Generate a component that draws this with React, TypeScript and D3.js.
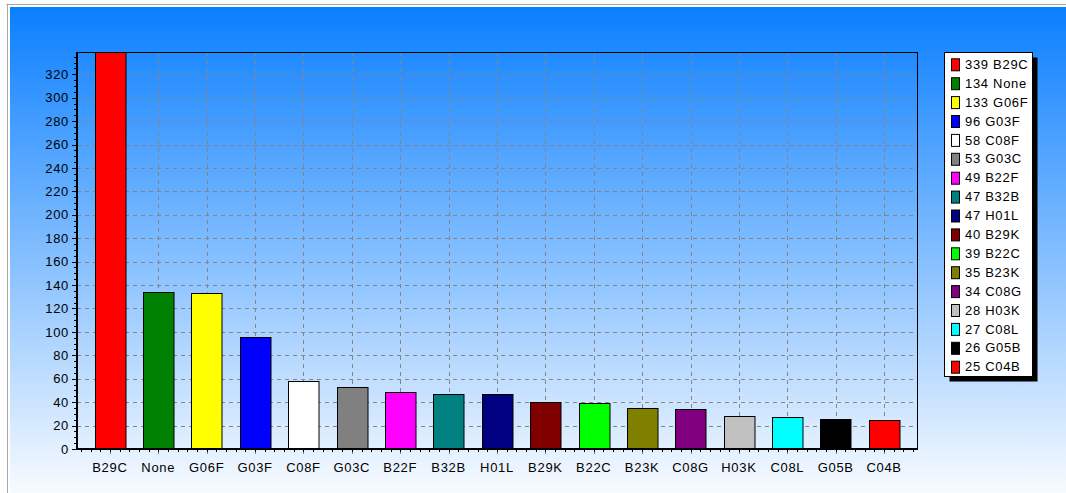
import React, { useEffect, useRef } from 'react'
import * as d3 from 'd3'

const categories = ['B29C', 'None', 'G06F', 'G03F', 'C08F', 'G03C', 'B22F', 'B32B', 'H01L', 'B29K', 'B22C', 'B23K', 'C08G', 'H03K', 'C08L', 'G05B', 'C04B']
const counts = [339, 134, 133, 96, 58, 53, 49, 47, 47, 40, 39, 35, 34, 28, 27, 26, 25]
const colors = ['#ff0000', '#008000', '#ffff00', '#0000ff', '#ffffff', '#808080', '#ff00ff', '#008080', '#000080', '#800000', '#00ff00', '#808000', '#800080', '#c0c0c0', '#00ffff', '#000000', '#ff0000']
const yTicks = d3.range(0, 321, 20)

const W = 1066
const H = 493

const App = () => {
  const ref = useRef<SVGSVGElement>(null)

  useEffect(() => {
    const svg = d3.select(ref.current)
    svg.selectAll('*').remove()
    const font = '"Liberation Sans", Arial, sans-serif'
    const fs = 13
    const ls = 0.7

    // window frame + gradient background
    const defs = svg.append('defs')
    const grad = defs.append('linearGradient').attr('id', 'bg').attr('x1', 0).attr('y1', 0).attr('x2', 0).attr('y2', 1)
    grad.append('stop').attr('offset', '0%').attr('stop-color', '#0a7fff')
    grad.append('stop').attr('offset', '100%').attr('stop-color', '#f8fbff')

    svg.append('rect').attr('width', W).attr('height', H).attr('fill', '#ffffff')
    svg.append('line').attr('x1', 6).attr('x2', W).attr('y1', 4.5).attr('y2', 4.5).attr('stroke', '#a8a8a8')
    svg.append('line').attr('x1', 7.5).attr('x2', 7.5).attr('y1', 4).attr('y2', H).attr('stroke', '#a8a8a8')
    svg.append('rect').attr('x', 10).attr('y', 7).attr('width', W - 10).attr('height', H - 7).attr('fill', 'url(#bg)')

    const left = 77, right = 917, top = 52, bottom = 449

    const x = d3.scalePoint<string>().domain(categories).range([left, right]).padding(0.68)
    const y = d3.scaleLinear().domain([0, 339]).range([bottom, top])
    const step = x.step()
    const barW = 30.5

    const g = svg.append('g')

    // grid
    g.selectAll('line.hg').data(yTicks.filter(d => d > 0)).join('line')
      .attr('x1', left).attr('x2', right)
      .attr('y1', d => Math.round(y(d)) + 0.5).attr('y2', d => Math.round(y(d)) + 0.5)
      .attr('stroke', '#858585').attr('stroke-dasharray', '4,4')
    g.selectAll('line.vg').data(categories).join('line')
      .attr('x1', d => Math.round(x(d)!) + 0.5).attr('x2', d => Math.round(x(d)!) + 0.5)
      .attr('y1', top).attr('y2', bottom + 5)
      .attr('stroke', '#858585').attr('stroke-dasharray', '4,4')

    // minor ticks
    const xMinor = d3.range(left + step * 0.68 - step, right, step / 5).filter(v => v > left && v < right)
    g.selectAll('line.xm').data(xMinor).join('line')
      .attr('x1', d => Math.round(d) + 0.5).attr('x2', d => Math.round(d) + 0.5)
      .attr('y1', bottom).attr('y2', bottom + 3)
      .attr('stroke', '#000')
    g.selectAll('line.ym').data(d3.range(0, 339, 5)).join('line')
      .attr('x1', left - 3).attr('x2', left)
      .attr('y1', d => Math.round(y(d)) + 0.5).attr('y2', d => Math.round(y(d)) + 0.5)
      .attr('stroke', '#000')
    g.selectAll('line.yM').data(yTicks).join('line')
      .attr('x1', left - 5).attr('x2', left)
      .attr('y1', d => Math.round(y(d)) + 0.5).attr('y2', d => Math.round(y(d)) + 0.5)
      .attr('stroke', '#000')

    // bars
    g.selectAll('rect.bar').data(counts).join('rect')
      .attr('x', (d, i) => Math.round(x(categories[i])! - barW / 2) + 0.5)
      .attr('width', barW)
      .attr('y', d => Math.round(y(d)) + 0.5)
      .attr('height', d => bottom - Math.round(y(d)))
      .attr('fill', (d, i) => colors[i])
      .attr('stroke', '#000')

    // plot frame
    g.append('line').attr('x1', left).attr('x2', right + 0.5).attr('y1', top + 0.5).attr('y2', top + 0.5).attr('stroke', '#000')
    g.append('line').attr('x1', right + 0.5).attr('x2', right + 0.5).attr('y1', top).attr('y2', bottom).attr('stroke', '#000')
    g.append('line').attr('x1', left).attr('x2', left).attr('y1', top).attr('y2', bottom + 1).attr('stroke', '#000').attr('stroke-width', 2)
    g.append('line').attr('x1', left - 1).attr('x2', right + 1).attr('y1', bottom).attr('y2', bottom).attr('stroke', '#000').attr('stroke-width', 2)

    // axis labels
    g.selectAll('text.yl').data(yTicks).join('text')
      .attr('x', 69).attr('y', d => y(d))
      .attr('dy', '0.36em').attr('text-anchor', 'end')
      .attr('font-family', font).attr('font-size', fs).attr('letter-spacing', ls).attr('fill', '#000')
      .text(d => d)
    g.selectAll('text.xl').data(categories).join('text')
      .attr('x', d => x(d)!).attr('y', 472)
      .attr('text-anchor', 'middle')
      .attr('font-family', font).attr('font-size', fs).attr('letter-spacing', ls).attr('fill', '#000')
      .text(d => d)

    // legend
    const lx = 944.5, ly = 52.5, lw = 88, lh = 324
    const lg = svg.append('g')
    lg.append('rect').attr('x', lx + 5).attr('y', ly + 5).attr('width', lw).attr('height', lh).attr('fill', '#000')
    lg.append('rect').attr('x', lx).attr('y', ly).attr('width', lw).attr('height', lh).attr('fill', '#fff').attr('stroke', '#000')
    const item = lg.selectAll('g.it').data(counts).join('g')
      .attr('transform', (d, i) => `translate(0, ${64.3 + i * 18.9})`)
    item.append('rect')
      .attr('x', 951.5).attr('y', -5.5).attr('width', 8).attr('height', 12)
      .attr('fill', (d, i) => colors[i]).attr('stroke', '#000')
    item.append('text')
      .attr('x', 965).attr('y', 0).attr('dy', '0.36em')
      .attr('font-family', font).attr('font-size', fs).attr('letter-spacing', ls).attr('fill', '#000')
      .text((d, i) => `${d} ${categories[i]}`)
  }, [])

  return (
    <div id="chartArea">
      <svg ref={ref} width={W} height={H} style={{ position: 'absolute', left: 0, top: 0 }}></svg>
    </div>
  )
}

export default App
